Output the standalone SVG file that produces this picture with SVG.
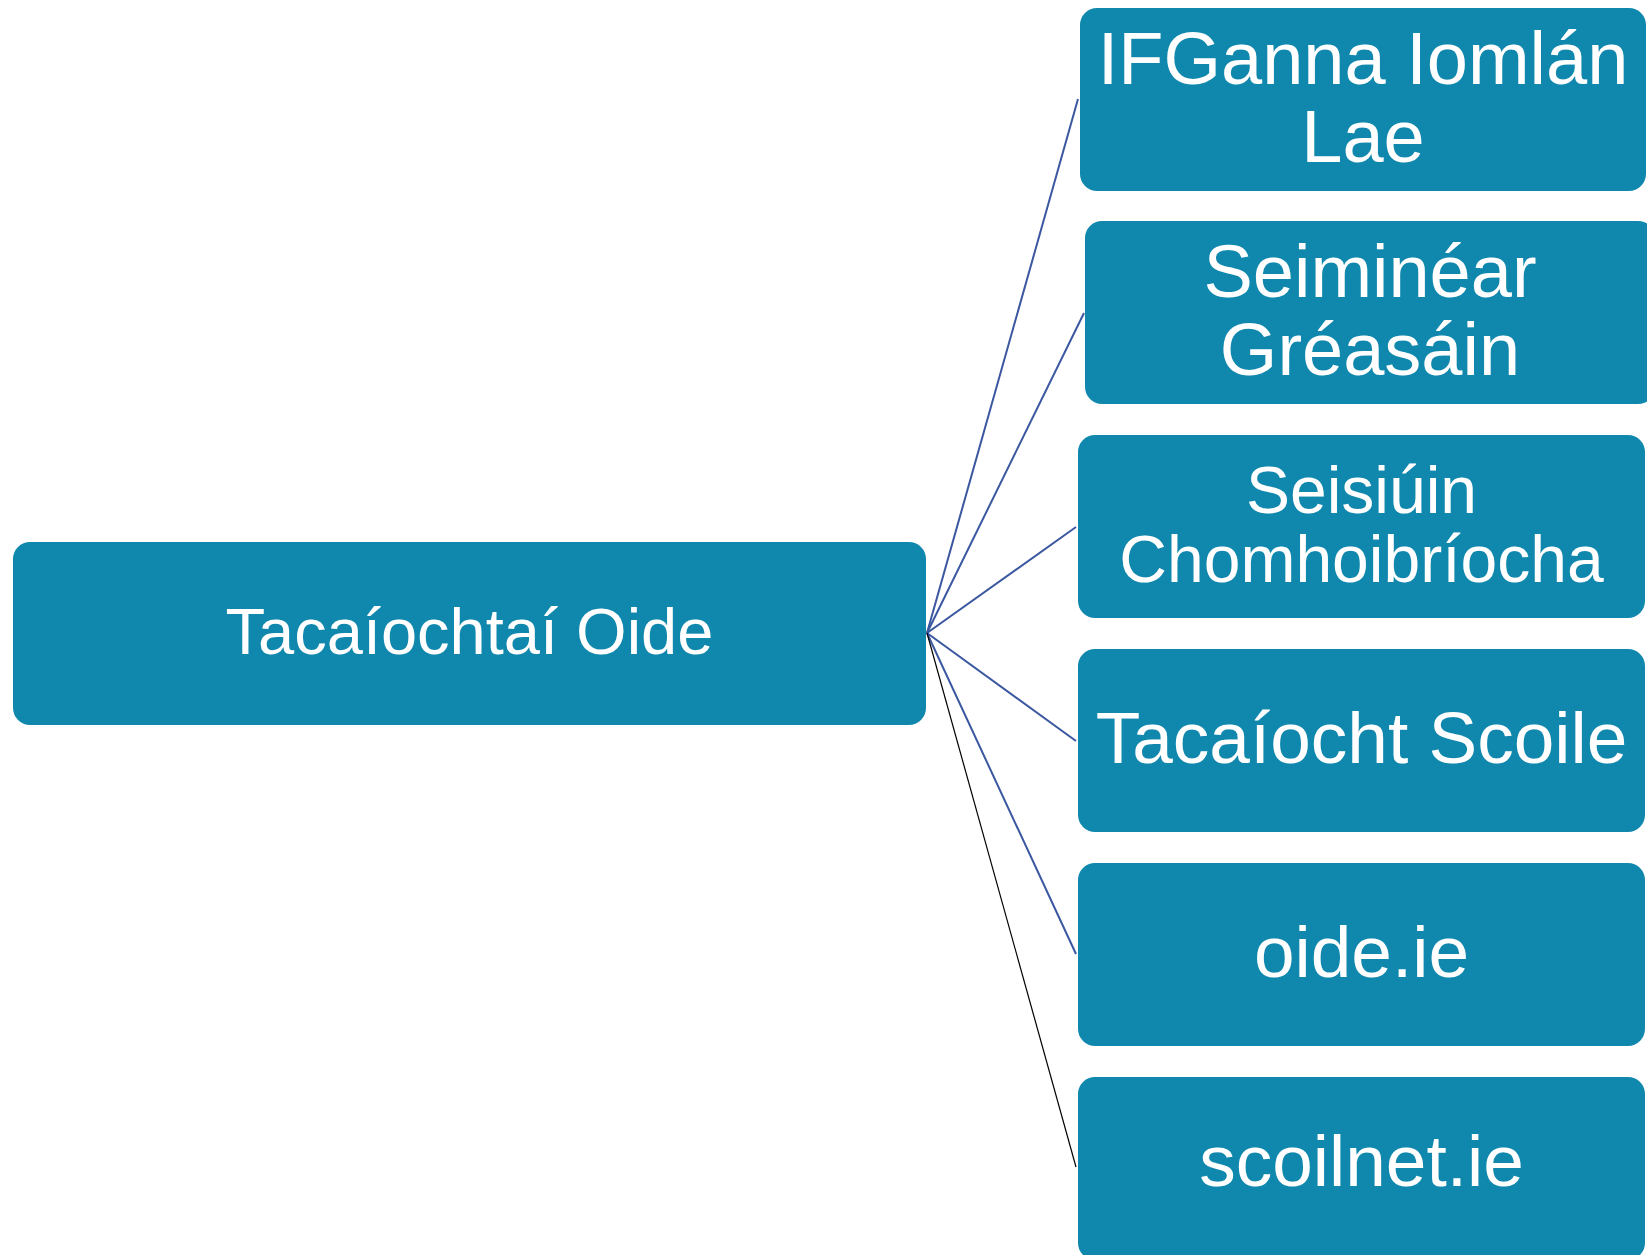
<svg xmlns="http://www.w3.org/2000/svg" width="1647" height="1255" viewBox="0 0 1647 1255">
<style>
.node{fill:#1088AD;}
.t{font-family:"Liberation Sans",Arial,sans-serif;fill:#FFFFFF;text-anchor:middle;}
.c{stroke:#3A57A0;stroke-width:2;fill:none;}
.k{stroke:#000000;stroke-width:1.2;fill:none;}
</style>
<rect width="1647" height="1255" fill="#FFFFFF"/>
<g id="connectors">
<line class="c" x1="927" y1="633" x2="1078" y2="99"/>
<line class="c" x1="927" y1="633" x2="1084" y2="313"/>
<line class="c" x1="927" y1="633" x2="1076" y2="527"/>
<line class="c" x1="927" y1="633" x2="1076" y2="741"/>
<line class="c" x1="927" y1="633" x2="1076" y2="954"/>
<line class="k" x1="927" y1="633" x2="1076" y2="1167"/>
</g>
<g id="root">
<rect class="node" x="13" y="542" width="913" height="183" rx="17"/>
<text class="t" x="469.5" y="654" font-size="65">Tacaíochtaí Oide</text>
</g>
<g id="n1">
<rect class="node" x="1080" y="8" width="566" height="183" rx="17"/>
<text class="t" x="1363" y="84" font-size="74">IFGanna Iomlán</text>
<text class="t" x="1363" y="162" font-size="74">Lae</text>
</g>
<g id="n2">
<rect class="node" x="1085" y="221" width="570" height="183" rx="17"/>
<text class="t" x="1370" y="297" font-size="74">Seiminéar</text>
<text class="t" x="1370" y="375" font-size="74">Gréasáin</text>
</g>
<g id="n3">
<rect class="node" x="1078" y="435" width="567" height="183" rx="17"/>
<text class="t" x="1361.5" y="513" font-size="66">Seisiúin</text>
<text class="t" x="1361.5" y="582" font-size="66">Chomhoibríocha</text>
</g>
<g id="n4">
<rect class="node" x="1078" y="649" width="567" height="183" rx="17"/>
<text class="t" x="1361.5" y="763" font-size="73">Tacaíocht Scoile</text>
</g>
<g id="n5">
<rect class="node" x="1078" y="863" width="567" height="183" rx="17"/>
<text class="t" x="1361.5" y="977" font-size="73">oide.ie</text>
</g>
<g id="n6">
<rect class="node" x="1078" y="1077" width="567" height="183" rx="17"/>
<text class="t" x="1361.5" y="1186" font-size="73">scoilnet.ie</text>
</g>
</svg>
